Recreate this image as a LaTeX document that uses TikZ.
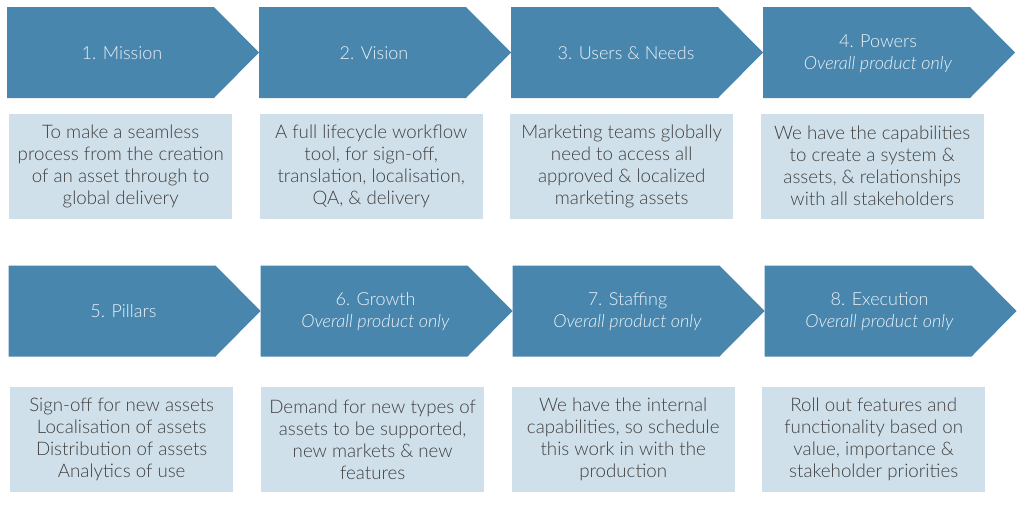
\documentclass[tikz,border=0pt]{standalone}
\usepackage{fontspec}
\setmainfont{Lato}[UprightFont=* Light, ItalicFont=* Light Italic]
\definecolor{arrowblue}{RGB}{72,134,174}
\definecolor{boxblue}{RGB}{208,224,234}
\definecolor{titlecol}{RGB}{236,242,246}
\definecolor{textgray}{RGB}{64,64,64}
\newcommand\chevshape[2]{\fill[chev] (#1,#2) -- ++(207,0) -- ++(45,45.5) -- ++(-45,45.5) -- ++(-207,0) -- cycle;}
\begin{document}
\begin{tikzpicture}[x=1pt,y=-1pt,
  chev/.style={fill=arrowblue,draw=none},
  title/.style={text=titlecol,font=\fontsize{18}{22}\selectfont,align=center,inner sep=0pt},
  descbox/.style={fill=boxblue,text=textgray,font=\fontsize{18.7}{22}\selectfont,align=center,
    minimum width=223pt,minimum height=105pt,inner sep=0pt,anchor=north west}]
\useasboundingbox (0,0) rectangle (1024,504);
% row 1 chevrons
\chevshape{7}{7}
\chevshape{259}{7}
\chevshape{511}{7}
\chevshape{763}{7}
% row 2 chevrons
\chevshape{8.5}{265.5}
\chevshape{260.5}{265.5}
\chevshape{512.5}{265.5}
\chevshape{764.5}{265.5}
% titles
\node[title] (t1) at (122,53) {1. Mission};
\node[title] (t2) at (374,53) {2. Vision};
\node[title] (t3) at (626,53) {3. Users \& Needs};
\node[title] (t4) at (878,53.5) {4. Powers\\\textit{Overall product only}};
\node[title] (t5) at (123.5,311.5) {5. Pillars};
\node[title] (t6) at (375.5,312) {6. Growth\\\textit{Overall product only}};
\node[title] (t7) at (627.5,312) {7. Staffing\\\textit{Overall product only}};
\node[title] (t8) at (879.5,312) {8. Execution\\\textit{Overall product only}};
% description boxes
\node[descbox] (d1) at (9,113.5) {To make a seamless\\process from the creation\\of an asset through to\\global delivery};
\node[descbox] (d2) at (259.5,113.5) {A full lifecycle workflow\\tool, for sign-off,\\translation, localisation,\\QA, \& delivery};
\node[descbox] (d3) at (510,113.5) {Marketing teams globally\\need to access all\\approved \& localized\\marketing assets};
\node[descbox] (d4) at (760.5,113.5) {We have the capabilities\\to create a system \&\\assets, \& relationships\\with all stakeholders};
\node[descbox] (d5) at (10,387) {Sign-off for new assets\\Localisation of assets\\Distribution of assets\\Analytics of use};
\node[descbox] (d6) at (261,387) {Demand for new types of\\assets to be supported,\\new markets \& new\\features};
\node[descbox] (d7) at (511.5,387) {We have the internal\\capabilities, so schedule\\this work in with the\\production};
\node[descbox] (d8) at (762,387) {Roll out features and\\functionality based on\\value, importance \&\\stakeholder priorities};
\end{tikzpicture}
\end{document}
